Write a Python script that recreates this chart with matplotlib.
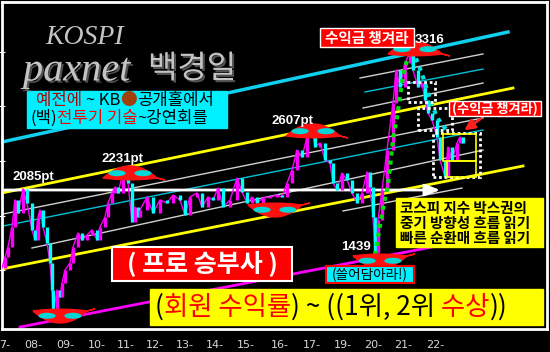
import numpy as np
import matplotlib.pyplot as plt
import matplotlib.patheffects as pe
from matplotlib.collections import LineCollection
from matplotlib.patches import Rectangle, Polygon, Ellipse

plt.rcParams['font.family'] = ['Noto Sans CJK KR', 'DejaVu Sans']

# ---- data (KOSPI) ----
bar_x = [2, 5, 8, 12, 15, 18, 23, 27, 32, 35, 38, 40, 43, 47, 50, 52, 53, 57, 60, 62,
         65, 70, 73, 78, 82, 87, 92, 97, 100, 105, 108, 112, 115, 118, 123, 125, 128, 132, 135, 138,
         140, 147, 153, 160, 167, 173, 180, 185, 190, 197, 202, 208, 213, 218, 223, 230, 237, 242, 247, 252,
         257, 263, 270, 277, 282, 287, 292, 297, 302, 307, 312, 315, 320, 325, 330, 333, 337, 342, 347, 352,
         357, 362, 367, 370, 373, 375, 378, 382, 387, 393, 396, 400, 405, 410, 413, 418, 422, 425, 428, 432,
         437, 440, 445, 448, 452, 457, 460, 463]
close = [1320, 1420, 1512, 1695, 1943, 1823, 2045, 1915, 1668, 1576, 1787, 1851, 1695, 1549, 1366, 1118, 889, 1118, 1054, 1182,
         1301, 1366, 1512, 1640, 1576, 1622, 1668, 1576, 1695, 1787, 1915, 2007, 2062, 2007, 2190, 2210, 2098, 1741, 1878, 1787,
         1851, 1970, 1823, 1943, 1915, 1988, 1943, 1805, 1970, 2007, 1878, 1970, 1943, 2052, 1878, 1943, 2144, 2016, 1915, 1970,
         1915, 1961, 1970, 1988, 1970, 2098, 2217, 2400, 2336, 2520, 2584, 2428, 2465, 2309, 2281, 2098, 2034, 2190, 2126, 2007,
         1915, 2007, 2199, 2062, 1787, 1457, 1759, 2034, 2400, 2831, 3133, 2977, 3197, 3298, 3133, 2977, 3014, 2858, 2739, 2675,
         2520, 2309, 2153, 2428, 2309, 2465, 2520, 2465]

tick_x = [5, 33, 65, 97, 126, 155, 185, 215, 246, 280, 312, 343, 373, 403, 435]
tick_labels = ['7-', '08-', '09-', '10-', '11-', '12-', '13-', '14-', '15-',
               '16-', '17-', '19-', '20-', '21-', '22-']

# channel lines: (x0, v0, x1, v1)
cyan_top = (2, 2474, 508, 3481)
yellow_up = (2, 2007, 513, 2968)
yellow_low = (2, 1311, 523, 2254)
magenta_low = (20, 779, 432, 1512)
white_thin = [(3, 1814, 483, 2694), (32, 1503, 483, 2400), (343, 1842, 462, 2052),
              (360, 3060, 483, 3280), (363, 2785, 483, 3014)]
cyan_thin = [(3, 1704, 483, 2584), (365, 2932, 483, 3142)]
level_2085 = 2034

green_dots_x = [375, 382, 388, 393, 397, 400, 403, 407, 410]
green_dots_v = [1439, 1823, 2080, 2492, 2703, 2886, 3069, 3225, 3335]
cyan_dots_x = [412, 418, 423, 427, 432, 437, 442, 448]
cyan_dots_v = [3316, 3197, 3069, 2950, 2813, 2703, 2629, 2574]

# dotted boxes (x0, x1, v0, v1)
dot_boxes = [(408, 435, 2840, 3023), (418, 452, 2584, 2785), (433, 480, 2153, 2556)]
yel_boxes = [(443, 476, 2300, 2547), (447, 476, 2153, 2300)]

# swoosh marks: (x, value, kind)
marks = [(60, 926, 'low'), (380, 1430, 'low'), (275, 1897, 'low'),
         (130, 2144, 'high'), (313, 2529, 'high'), (415, 3280, 'high')]

W, H = 550, 352
V_PER_PX = (3756 - 761) / 327.0


def fx(px):
    return px / W


def fy(py):
    return 1 - py / H


fig = plt.figure(figsize=(5.5, 3.52), dpi=100, facecolor='black')
ax = fig.add_axes([fx(2), fy(329), 545 / W, 327 / H])
ax.set_facecolor('black')
ax.set_xlim(2, 547)
ax.set_ylim(761, 3756)
for s in ax.spines.values():
    s.set_color('white')
    s.set_linewidth(2)
ax.set_yticks([1300, 1800, 2300, 2800, 3300])
ax.tick_params(axis='y', colors='white', length=5, direction='inout', labelleft=False)
ax.set_xticks(tick_x)
ax.set_xticklabels(tick_labels, family='DejaVu Sans')
ax.tick_params(axis='x', length=0, pad=8, labelcolor='#d8d8d8', labelsize=8)


def seg(l, color, lw):
    ax.plot([l[0], l[2]], [l[1], l[3]], color=color, lw=lw, zorder=2)


seg(cyan_top, '#10d0f0', 2.5)
seg(yellow_up, '#ffff00', 2)
seg(yellow_low, '#ffff00', 2)
seg(magenta_low, '#ff00ff', 2)
for l in white_thin:
    seg(l, '#d0d0d0', 1)
for l in cyan_thin:
    seg(l, '#00c0d8', 1)

ax.annotate('', xy=(443, level_2085), xytext=(2, level_2085),
            arrowprops=dict(arrowstyle='-|>,head_length=0.9,head_width=0.35',
                            color='white', lw=2), zorder=3)

# price: thin connecting line + candle-like bars between consecutive closes
ax.plot(bar_x, close, color='#ff00ff', lw=1, zorder=4)
bars = [[(x, a), (x, b)] for x, a, b in zip(bar_x[1:], close[:-1], close[1:])]
cols = ['#ff00ff' if b >= a else '#00ffff' for a, b in zip(close[:-1], close[1:])]
ax.add_collection(LineCollection(bars, colors=cols, linewidths=2.4, zorder=4))

ax.plot(green_dots_x, green_dots_v, color='#00e000', lw=3, ls=(0, (1, 1.2)), zorder=5)
ax.plot(cyan_dots_x, cyan_dots_v, color='#00e0e0', lw=3, ls=(0, (1, 1.2)), zorder=5)

for x0, x1, v0, v1 in dot_boxes:
    ax.add_patch(Rectangle((x0, v0), x1 - x0, v1 - v0, fill=False, ec='white',
                           lw=2, ls=(0, (1, 1)), zorder=6))
for x0, x1, v0, v1 in yel_boxes:
    ax.add_patch(Rectangle((x0, v0), x1 - x0, v1 - v0, fill=False, ec='#ffff00',
                           lw=1.2, zorder=6))


def swoosh(xc, vc, kind, w=54, h=12):
    sgn = -1 if kind == 'low' else 1
    t = np.linspace(-1, 1, 40)
    xs = xc + t * w / 2
    outer = vc + sgn * h * (1 - t ** 2) * V_PER_PX
    inner = vc - sgn * 0.15 * h * (1 - t ** 2) * V_PER_PX
    poly = np.vstack([np.column_stack([xs, outer]),
                      [[xc + w / 2 + 8, vc - sgn * 2 * V_PER_PX]],
                      np.column_stack([xs[::-1], inner[::-1]])])
    ax.add_patch(Polygon(poly, closed=True, fc='#ff1010', ec='#ff1010', lw=1, zorder=7))
    for side in (-1, 1):
        ax.add_patch(Ellipse((xc + side * w * 0.24, vc + sgn * 0.4 * h * V_PER_PX),
                             w * 0.32, 0.5 * h * V_PER_PX, fc='#00d8d8', ec='none', zorder=8))


for x, v, k in marks:
    swoosh(x, v, k)


# ---- annotations (figure pixel positions) ----
def box(x0, y0, x1, y1, fc, ec=None, lw=1):
    ax.add_patch(Rectangle((fx(x0), fy(y1)), (x1 - x0) / W, (y1 - y0) / H,
                           transform=fig.transFigure, clip_on=False, fc=fc,
                           ec=ec if ec else fc, lw=lw, zorder=10))


def txt(x, y, s, **kw):
    kw.setdefault('zorder', 11)
    kw.setdefault('va', 'center')
    kw.setdefault('ha', 'center')
    return ax.text(fx(x), fy(y), s, transform=fig.transFigure, **kw)


def multi(x, y, pieces, **kw):
    t = txt(x, y, pieces[0][0], color=pieces[0][1], ha='left', **kw)
    for s, c in pieces[1:]:
        t = ax.annotate(s, xy=(1, 0), xycoords=t, va='bottom', ha='left',
                        color=c, zorder=11, **kw)
    return t


shadow = [pe.SimplePatchShadow(offset=(1.5, -1.5), shadow_rgbFace='#505050', alpha=1), pe.Normal()]
txt(45, 37, 'KOSPI', color='#c4c4c4', family='Liberation Serif', style='italic',
    fontsize=20, ha='left')
txt(23, 71, 'paxnet', color='#c4c4c4', family='Liberation Serif', style='italic',
    fontsize=29, ha='left', path_effects=shadow)
txt(148, 69, '백경일', color='#c4c4c4', fontsize=23, ha='left', path_effects=shadow)

box(27, 91, 227, 128, '#00f0ff')
multi(36, 101, [('예전에', '#b00000'), (' ~ KB', 'black'), ('●', '#a0400a'),
                ('공개홀에서', 'black')], fontsize=12)
multi(30, 118, [('(백)', 'black'), ('전투기 기술', '#ff0000'), ('~강연회를', 'black')],
      fontsize=12)

lbl = dict(color='white', family='Liberation Sans', fontweight='bold', fontsize=9.5)
txt(33, 177, '2085pt', **lbl)
txt(122, 159, '2231pt', **lbl)
txt(292, 121, '2607pt', **lbl)
txt(430, 40, '3316', **lbl)
txt(356, 247, '1439', **lbl)

box(320, 28, 414, 47, '#ff0000', 'white', 1)
txt(367, 38, '수익금 챙겨라', color='white', fontsize=10.5, fontweight='bold')

box(449, 101, 541, 116, '#ff0000', 'white', 1)
txt(495, 108.5, '(수익금 챙겨라)', color='white', fontsize=9.5, fontweight='bold')
ax.annotate('', xy=(fx(462), fy(132)), xytext=(fx(483), fy(117)),
            xycoords='figure fraction', textcoords='figure fraction',
            arrowprops=dict(arrowstyle='-|>,head_length=0.6,head_width=0.3',
                            color='#ff2020', lw=2), zorder=11)

box(396, 198, 543, 247, '#ffff00')
for i, line in enumerate(['코스피 지수 박스권의', '중기 방향성 흐름 읽기', '빠른 순환매 흐름 읽기']):
    txt(400, 208 + 15 * i, line, color='black', fontsize=10.5, fontweight='bold', ha='left')

box(112, 247, 292, 281, '#ff0000', 'white', 1.5)
txt(202, 264, '( 프로 승부사 )', color='white', fontsize=18, fontweight='bold')

box(326, 266, 414, 283, '#00f0ff', '#ff0000', 1.5)
txt(370, 274.5, '(쓸어담아라!)', color='black', fontsize=9.8)

box(150, 289, 543, 325, '#ffff00')
multi(155, 307, [('(', 'black'), ('회원 수익률', '#ff0000'), (') ~ ((1위, 2위', 'black'),
                 (' 수상', '#ff0000'), ('))', 'black')], fontsize=19)

fig.savefig('out.png', dpi=100, facecolor='black')
